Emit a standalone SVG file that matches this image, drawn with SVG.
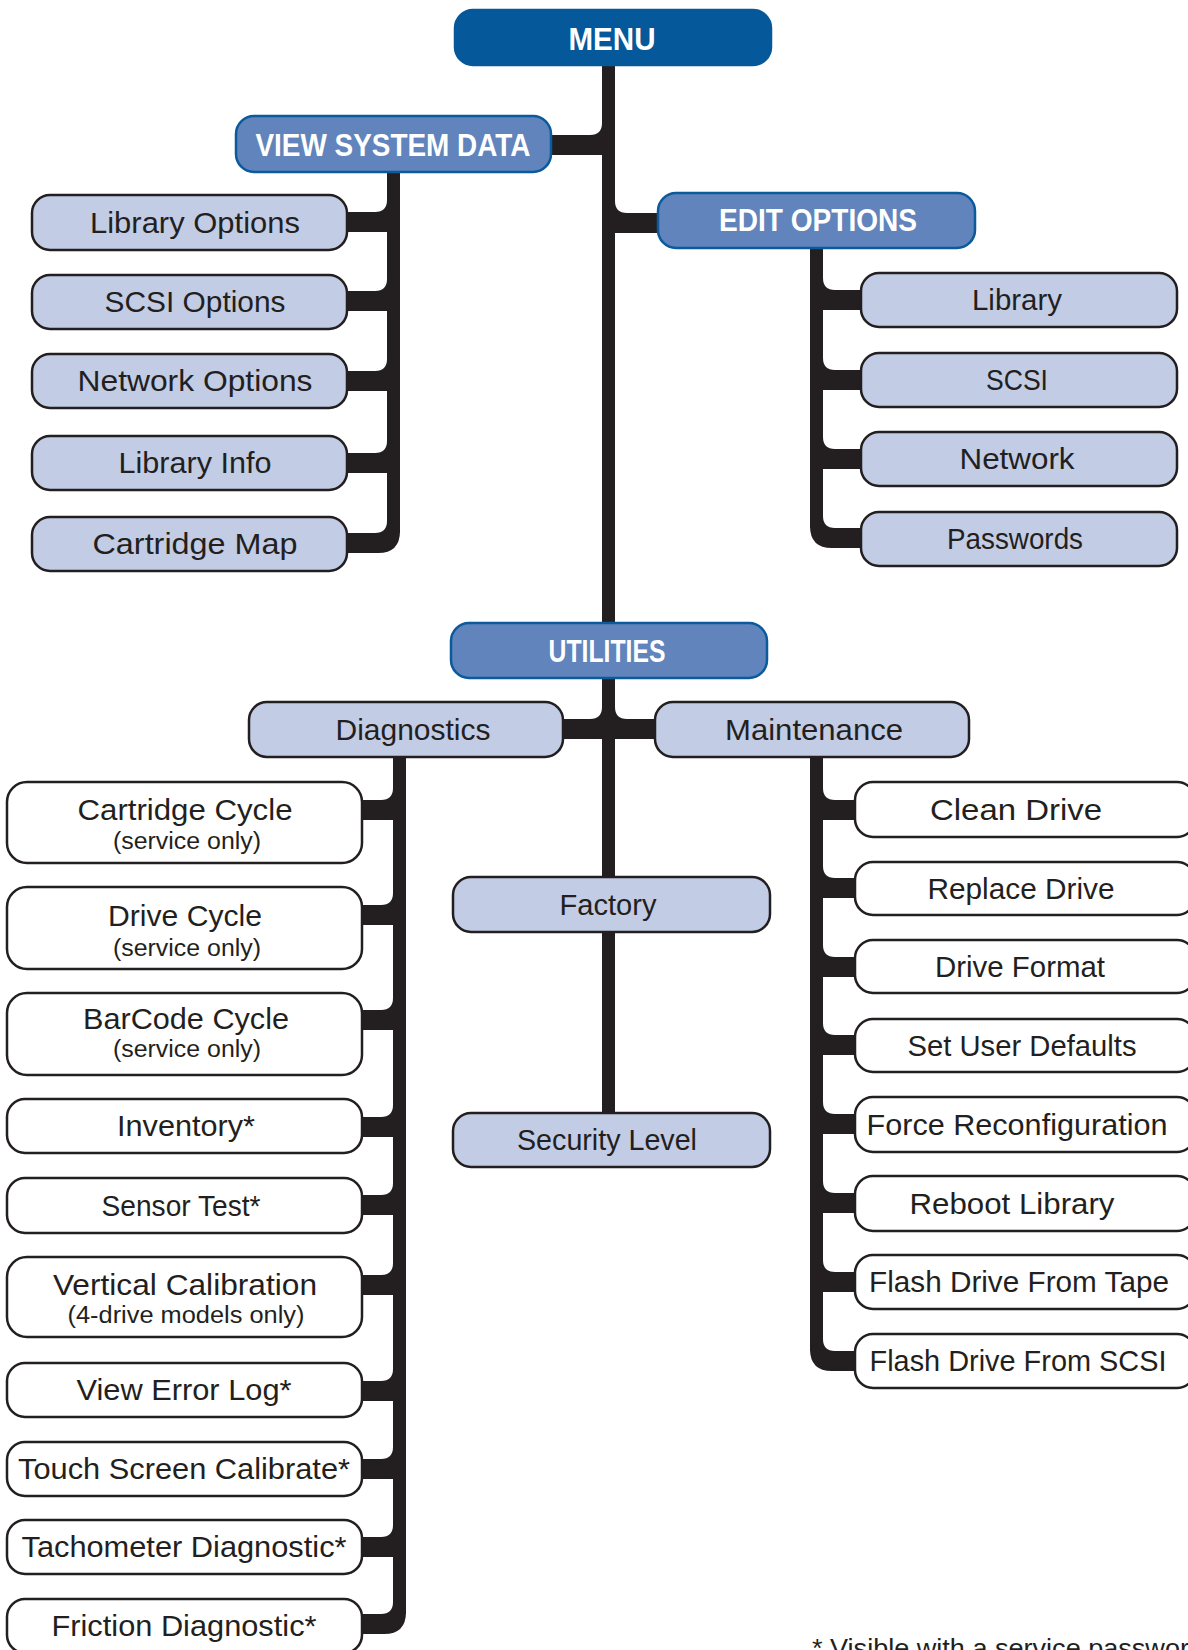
<svg xmlns="http://www.w3.org/2000/svg" width="1188" height="1650" viewBox="0 0 1188 1650">
<style>
.bg{fill:#ffffff}
.top{fill:#05589a;stroke:#05589a;stroke-width:2.5}
.hdr{fill:#6084bb;stroke:#0b5a9c;stroke-width:2.5}
.lt{fill:#c2cce5;stroke:#231f20;stroke-width:2.5}
.wt{fill:#ffffff;stroke:#231f20;stroke-width:2.5}
.ht{font-family:"Liberation Sans",Arial,sans-serif;font-weight:bold;font-size:31px;fill:#ffffff;text-anchor:middle}
.t{font-family:"Liberation Sans",Arial,sans-serif;font-size:29px;fill:#231f20;text-anchor:middle}
.s{font-family:"Liberation Sans",Arial,sans-serif;font-size:23px;fill:#231f20;text-anchor:middle}
.fn{font-family:"Liberation Sans",Arial,sans-serif;font-size:26px;fill:#231f20}
.c{fill:#231f20;stroke:none}
</style>
<rect class="bg" x="0" y="0" width="1188" height="1650"/>
<g id="connectors">
  <!-- main trunk -->
  <rect class="c" x="602" y="60" width="13" height="1060"/>
  <!-- VSD to main -->
  <rect class="c" x="549" y="135" width="60" height="20"/>
  <path class="c" d="M590 135 Q602 135 602 123 L602 135 Z"/>
  <!-- EDIT to main -->
  <rect class="c" x="608" y="213" width="52" height="20"/>
  <path class="c" d="M627 213 Q615 213 615 201 L615 213 Z"/>
  <!-- Diagnostics to main -->
  <rect class="c" x="561" y="719" width="48" height="20"/>
  <path class="c" d="M590 719 Q602 719 602 707 L602 719 Z"/>
  <!-- Maintenance to main -->
  <rect class="c" x="608" y="719" width="49" height="20"/>
  <path class="c" d="M627 719 Q615 719 615 707 L615 719 Z"/>

  <!-- VSD trunk -->
  <rect class="c" x="387" y="170" width="13" height="363"/>
  <rect class="c" x="345" y="212" width="49" height="20"/>
  <path class="c" d="M375 212 Q387 212 387 200 L387 212 Z"/>
  <rect class="c" x="345" y="291" width="49" height="20"/>
  <path class="c" d="M375 291 Q387 291 387 279 L387 291 Z"/>
  <rect class="c" x="345" y="371" width="49" height="20"/>
  <path class="c" d="M375 371 Q387 371 387 359 L387 371 Z"/>
  <rect class="c" x="345" y="453" width="49" height="20"/>
  <path class="c" d="M375 453 Q387 453 387 441 L387 453 Z"/>
  <path class="c" d="M345 533 H375 Q387 533 387 521 L400 521 L400 531 Q400 553 378 553 H345 Z"/>

  <!-- EDIT trunk -->
  <rect class="c" x="810" y="246" width="13" height="282"/>
  <rect class="c" x="816" y="290" width="47" height="20"/>
  <path class="c" d="M835 290 Q823 290 823 278 L823 290 Z"/>
  <rect class="c" x="816" y="370" width="47" height="20"/>
  <path class="c" d="M835 370 Q823 370 823 358 L823 370 Z"/>
  <rect class="c" x="816" y="449" width="47" height="20"/>
  <path class="c" d="M835 449 Q823 449 823 437 L823 449 Z"/>
  <path class="c" d="M863 528 H835 Q823 528 823 516 L810 516 L810 526 Q810 548 832 548 H863 Z"/>

  <!-- Diagnostics trunk -->
  <rect class="c" x="393" y="755" width="13" height="859"/>
  <rect class="c" x="360" y="800" width="40" height="20"/>
  <path class="c" d="M381 800 Q393 800 393 788 L393 800 Z"/>
  <rect class="c" x="360" y="905" width="40" height="20"/>
  <path class="c" d="M381 905 Q393 905 393 893 L393 905 Z"/>
  <rect class="c" x="360" y="1010" width="40" height="20"/>
  <path class="c" d="M381 1010 Q393 1010 393 998 L393 1010 Z"/>
  <rect class="c" x="360" y="1117" width="40" height="20"/>
  <path class="c" d="M381 1117 Q393 1117 393 1105 L393 1117 Z"/>
  <rect class="c" x="360" y="1195" width="40" height="20"/>
  <path class="c" d="M381 1195 Q393 1195 393 1183 L393 1195 Z"/>
  <rect class="c" x="360" y="1275" width="40" height="20"/>
  <path class="c" d="M381 1275 Q393 1275 393 1263 L393 1275 Z"/>
  <rect class="c" x="360" y="1381" width="40" height="20"/>
  <path class="c" d="M381 1381 Q393 1381 393 1369 L393 1381 Z"/>
  <rect class="c" x="360" y="1459" width="40" height="20"/>
  <path class="c" d="M381 1459 Q393 1459 393 1447 L393 1459 Z"/>
  <rect class="c" x="360" y="1537" width="40" height="20"/>
  <path class="c" d="M381 1537 Q393 1537 393 1525 L393 1537 Z"/>
  <path class="c" d="M360 1614 H381 Q393 1614 393 1602 L406 1602 L406 1612 Q406 1634 384 1634 H360 Z"/>

  <!-- Maintenance trunk -->
  <rect class="c" x="810" y="755" width="13" height="596"/>
  <rect class="c" x="816" y="800" width="41" height="20"/>
  <path class="c" d="M835 800 Q823 800 823 788 L823 800 Z"/>
  <rect class="c" x="816" y="878" width="41" height="20"/>
  <path class="c" d="M835 878 Q823 878 823 866 L823 878 Z"/>
  <rect class="c" x="816" y="957" width="41" height="20"/>
  <path class="c" d="M835 957 Q823 957 823 945 L823 957 Z"/>
  <rect class="c" x="816" y="1035" width="41" height="20"/>
  <path class="c" d="M835 1035 Q823 1035 823 1023 L823 1035 Z"/>
  <rect class="c" x="816" y="1114" width="41" height="20"/>
  <path class="c" d="M835 1114 Q823 1114 823 1102 L823 1114 Z"/>
  <rect class="c" x="816" y="1193" width="41" height="20"/>
  <path class="c" d="M835 1193 Q823 1193 823 1181 L823 1193 Z"/>
  <rect class="c" x="816" y="1272" width="41" height="20"/>
  <path class="c" d="M835 1272 Q823 1272 823 1260 L823 1272 Z"/>
  <path class="c" d="M857 1351 H835 Q823 1351 823 1339 L810 1339 L810 1349 Q810 1371 832 1371 H857 Z"/>
</g>

<g id="menu"><rect class="top" x="455" y="10" width="316" height="55" rx="18"/><text class="ht" x="612" y="50" textLength="87" lengthAdjust="spacingAndGlyphs">MENU</text></g>
<g id="view-system-data"><rect class="hdr" x="236" y="116" width="315" height="56" rx="18"/><text class="ht" x="393" y="156" textLength="275" lengthAdjust="spacingAndGlyphs">VIEW SYSTEM DATA</text></g>
<g id="edit-options"><rect class="hdr" x="658" y="193" width="317" height="55" rx="18"/><text class="ht" x="818" y="231" textLength="198" lengthAdjust="spacingAndGlyphs">EDIT OPTIONS</text></g>
<g id="utilities"><rect class="hdr" x="451" y="623" width="316" height="55" rx="18"/><text class="ht" x="607" y="662" textLength="117" lengthAdjust="spacingAndGlyphs">UTILITIES</text></g>

<g id="library-options"><rect class="lt" x="32" y="195" width="315" height="55" rx="18"/><text class="t" x="195" y="233" textLength="210" lengthAdjust="spacingAndGlyphs">Library Options</text></g>
<g id="scsi-options"><rect class="lt" x="32" y="275" width="315" height="54" rx="18"/><text class="t" x="195" y="312" textLength="181" lengthAdjust="spacingAndGlyphs">SCSI Options</text></g>
<g id="network-options"><rect class="lt" x="32" y="354" width="315" height="54" rx="18"/><text class="t" x="195" y="391" textLength="235" lengthAdjust="spacingAndGlyphs">Network Options</text></g>
<g id="library-info"><rect class="lt" x="32" y="436" width="315" height="54" rx="18"/><text class="t" x="195" y="473" textLength="153" lengthAdjust="spacingAndGlyphs">Library Info</text></g>
<g id="cartridge-map"><rect class="lt" x="32" y="517" width="315" height="54" rx="18"/><text class="t" x="195" y="554" textLength="205" lengthAdjust="spacingAndGlyphs">Cartridge Map</text></g>

<g id="edit-library"><rect class="lt" x="861" y="273" width="316" height="54" rx="18"/><text class="t" x="1017" y="310" textLength="90" lengthAdjust="spacingAndGlyphs">Library</text></g>
<g id="edit-scsi"><rect class="lt" x="861" y="353" width="316" height="54" rx="18"/><text class="t" x="1017" y="390" textLength="62" lengthAdjust="spacingAndGlyphs">SCSI</text></g>
<g id="edit-network"><rect class="lt" x="861" y="432" width="316" height="54" rx="18"/><text class="t" x="1017" y="469" textLength="115" lengthAdjust="spacingAndGlyphs">Network</text></g>
<g id="edit-passwords"><rect class="lt" x="861" y="512" width="316" height="54" rx="18"/><text class="t" x="1015" y="549" textLength="136" lengthAdjust="spacingAndGlyphs">Passwords</text></g>

<g id="diagnostics"><rect class="lt" x="249" y="702" width="314" height="55" rx="18"/><text class="t" x="413" y="740" textLength="155" lengthAdjust="spacingAndGlyphs">Diagnostics</text></g>
<g id="maintenance"><rect class="lt" x="655" y="702" width="314" height="55" rx="18"/><text class="t" x="814" y="740" textLength="178" lengthAdjust="spacingAndGlyphs">Maintenance</text></g>
<g id="factory"><rect class="lt" x="453" y="877" width="317" height="55" rx="18"/><text class="t" x="608" y="915" textLength="97" lengthAdjust="spacingAndGlyphs">Factory</text></g>
<g id="security-level"><rect class="lt" x="453" y="1113" width="317" height="54" rx="18"/><text class="t" x="607" y="1150" textLength="180" lengthAdjust="spacingAndGlyphs">Security Level</text></g>

<g id="cartridge-cycle"><rect class="wt" x="7" y="782" width="355" height="81" rx="20"/><text class="t" x="185" y="820" textLength="215" lengthAdjust="spacingAndGlyphs">Cartridge Cycle</text><text class="s" x="187" y="849" textLength="148" lengthAdjust="spacingAndGlyphs">(service only)</text></g>
<g id="drive-cycle"><rect class="wt" x="7" y="887" width="355" height="82" rx="20"/><text class="t" x="185" y="926" textLength="154" lengthAdjust="spacingAndGlyphs">Drive Cycle</text><text class="s" x="187" y="956" textLength="148" lengthAdjust="spacingAndGlyphs">(service only)</text></g>
<g id="barcode-cycle"><rect class="wt" x="7" y="993" width="355" height="82" rx="20"/><text class="t" x="186" y="1029" textLength="206" lengthAdjust="spacingAndGlyphs">BarCode Cycle</text><text class="s" x="187" y="1057" textLength="148" lengthAdjust="spacingAndGlyphs">(service only)</text></g>
<g id="inventory"><rect class="wt" x="7" y="1099" width="355" height="54" rx="18"/><text class="t" x="186" y="1136" textLength="138" lengthAdjust="spacingAndGlyphs">Inventory*</text></g>
<g id="sensor-test"><rect class="wt" x="7" y="1178" width="355" height="55" rx="18"/><text class="t" x="181" y="1216" textLength="159" lengthAdjust="spacingAndGlyphs">Sensor Test*</text></g>
<g id="vertical-calibration"><rect class="wt" x="7" y="1257" width="355" height="80" rx="20"/><text class="t" x="185" y="1295" textLength="264" lengthAdjust="spacingAndGlyphs">Vertical Calibration</text><text class="s" x="186" y="1323" textLength="237" lengthAdjust="spacingAndGlyphs">(4-drive models only)</text></g>
<g id="view-error-log"><rect class="wt" x="7" y="1363" width="355" height="54" rx="18"/><text class="t" x="184" y="1400" textLength="215" lengthAdjust="spacingAndGlyphs">View Error Log*</text></g>
<g id="touch-screen-calibrate"><rect class="wt" x="7" y="1442" width="355" height="54" rx="18"/><text class="t" x="184" y="1479" textLength="332" lengthAdjust="spacingAndGlyphs">Touch Screen Calibrate*</text></g>
<g id="tachometer-diagnostic"><rect class="wt" x="7" y="1520" width="355" height="54" rx="18"/><text class="t" x="184" y="1557" textLength="325" lengthAdjust="spacingAndGlyphs">Tachometer Diagnostic*</text></g>
<g id="friction-diagnostic"><rect class="wt" x="7" y="1599" width="355" height="54" rx="18"/><text class="t" x="184" y="1636" textLength="265" lengthAdjust="spacingAndGlyphs">Friction Diagnostic*</text></g>

<g id="clean-drive"><rect class="wt" x="855" y="782" width="340" height="55" rx="18"/><text class="t" x="1016" y="820" textLength="172" lengthAdjust="spacingAndGlyphs">Clean Drive</text></g>
<g id="replace-drive"><rect class="wt" x="855" y="862" width="340" height="53" rx="18"/><text class="t" x="1021" y="899" textLength="187" lengthAdjust="spacingAndGlyphs">Replace Drive</text></g>
<g id="drive-format"><rect class="wt" x="855" y="940" width="340" height="53" rx="18"/><text class="t" x="1020" y="977" textLength="170" lengthAdjust="spacingAndGlyphs">Drive Format</text></g>
<g id="set-user-defaults"><rect class="wt" x="855" y="1019" width="340" height="53" rx="18"/><text class="t" x="1022" y="1056" textLength="229" lengthAdjust="spacingAndGlyphs">Set User Defaults</text></g>
<g id="force-reconfiguration"><rect class="wt" x="855" y="1097" width="340" height="55" rx="18"/><text class="t" x="1017" y="1135" textLength="301" lengthAdjust="spacingAndGlyphs">Force Reconfiguration</text></g>
<g id="reboot-library"><rect class="wt" x="855" y="1176" width="340" height="55" rx="18"/><text class="t" x="1012" y="1214" textLength="205" lengthAdjust="spacingAndGlyphs">Reboot Library</text></g>
<g id="flash-drive-from-tape"><rect class="wt" x="855" y="1255" width="340" height="54" rx="18"/><text class="t" x="1019" y="1292" textLength="300" lengthAdjust="spacingAndGlyphs">Flash Drive From Tape</text></g>
<g id="flash-drive-from-scsi"><rect class="wt" x="855" y="1334" width="340" height="54" rx="18"/><text class="t" x="1018" y="1371" textLength="297" lengthAdjust="spacingAndGlyphs">Flash Drive From SCSI</text></g>

<text class="fn" x="812" y="1657" textLength="392" lengthAdjust="spacingAndGlyphs">* Visible with a service password</text>
</svg>
